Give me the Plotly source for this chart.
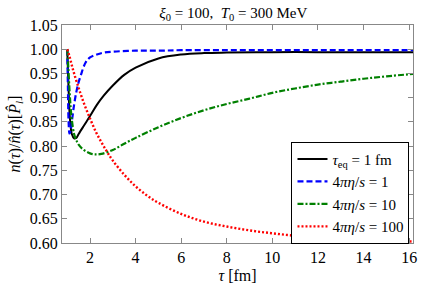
import plotly.graph_objects as go

# ---- data ----
tau_black = [1.0, 1.05, 1.1, 1.15, 1.2, 1.3, 1.4, 1.5, 1.7, 2.0, 2.3, 2.6, 3.0, 3.5, 4.0,
             5.0, 6.0, 7.0, 8.0, 10.0, 12.0, 14.0, 16.2]
n_black = [1.0, 0.93, 0.87, 0.84, 0.825, 0.816, 0.817, 0.825, 0.84, 0.862, 0.885, 0.904,
           0.925, 0.947, 0.962, 0.981, 0.989, 0.992, 0.993, 0.994, 0.994, 0.994, 0.994]

tau_blue = [1.0, 1.03, 1.06, 1.1, 1.15, 1.2, 1.3, 1.4, 1.5, 1.6, 1.8, 2.0, 2.3, 2.6, 3.0,
            4.0, 5.0, 6.0, 8.0, 10.0, 12.0, 14.0, 16.2]
n_blue = [1.0, 0.92, 0.85, 0.826, 0.832, 0.85, 0.885, 0.912, 0.932, 0.947, 0.972, 0.983,
          0.989, 0.993, 0.995, 0.997, 0.997, 0.998, 0.998, 0.998, 0.998, 0.998, 0.998]

tau_green = [1.0, 1.05, 1.1, 1.15, 1.2, 1.3, 1.4, 1.5, 1.7, 2.0, 2.2, 2.5, 3.0, 3.5, 4.0,
             5.0, 6.0, 7.0, 8.0, 9.0, 10.0, 11.0, 12.0, 13.0, 14.0, 15.0, 16.2]
n_green = [1.0, 0.96, 0.915, 0.88, 0.855, 0.825, 0.812, 0.803, 0.793, 0.785, 0.783, 0.784,
           0.792, 0.805, 0.817, 0.839, 0.858, 0.874, 0.887, 0.898, 0.91, 0.919, 0.927,
           0.933, 0.939, 0.944, 0.949]

tau_red = [1.0, 1.1, 1.2, 1.3, 1.5, 1.75, 2.0, 2.25, 2.5, 2.75, 3.0, 3.5, 4.0, 4.5, 5.0,
           6.0, 7.0, 8.0, 9.0, 10.0, 11.0, 12.0, 13.0, 14.0, 15.0, 16.2]
n_red = [1.0, 0.985, 0.967, 0.95, 0.92, 0.886, 0.857, 0.83, 0.808, 0.788, 0.770, 0.741,
         0.717, 0.698, 0.683, 0.66, 0.644, 0.634, 0.626, 0.620, 0.615, 0.612, 0.609,
         0.607, 0.605, 0.603]

labels = ["<i>τ</i><sub>eq</sub> = 1 fm", "4<i>πη</i>/<i>s</i> = 1",
          "4<i>πη</i>/<i>s</i> = 10", "4<i>πη</i>/<i>s</i> = 100"]

FONT = "'Liberation Serif', 'DejaVu Serif', serif"

fig = go.Figure()
fig.add_trace(go.Scatter(x=tau_black, y=n_black, mode="lines", name=labels[0],
                         line=dict(color="black", width=2, shape="spline")))
fig.add_trace(go.Scatter(x=tau_blue, y=n_blue, mode="lines", name=labels[1],
                         line=dict(color="#0000ff", width=2.2, dash="6px,3px", shape="spline")))
fig.add_trace(go.Scatter(x=tau_green, y=n_green, mode="lines", name=labels[2],
                         line=dict(color="#008000", width=2.2, dash="6px,2px,2px,2px", shape="spline")))
fig.add_trace(go.Scatter(x=tau_red, y=n_red, mode="lines", name=labels[3],
                         line=dict(color="#ff0000", width=2.4, dash="2px,2px", shape="spline")))

axis_common = dict(showline=True, linecolor="#888888", linewidth=1.2, mirror="ticks",
                   ticks="inside", ticklen=5, tickcolor="#888888", showgrid=False,
                   zeroline=False, tickfont=dict(family=FONT, size=16, color="black"))

fig.update_layout(
    width=425, height=289,
    margin=dict(l=62, r=8, t=25, b=46),
    paper_bgcolor="white", plot_bgcolor="white",
    font=dict(family=FONT, size=16, color="black"),
    title=dict(text="<i>ξ</i><sub>0</sub> = 100,  <i>T</i><sub>0</sub> = 300 MeV",
               x=0.549, xanchor="center", y=0.955, yanchor="middle",
               font=dict(family=FONT, size=15)),
    xaxis=dict(range=[0.77, 16.17], dtick=2, tick0=0,
               title=dict(text="<i>τ</i> [fm]", font=dict(family=FONT, size=16), standoff=4),
               **axis_common),
    yaxis=dict(range=[0.60, 1.05], dtick=0.05, tick0=0, tickformat=".2f",
               title=dict(text="<i>n</i>(<i>τ</i>)/<i>n̂</i>(<i>τ</i>)[<i>P̂</i><sub><i>l</i></sub>]",
                          font=dict(family=FONT, size=16), standoff=5),
               **axis_common),
    legend=dict(x=0.99, xanchor="right", y=0.465, yanchor="top",
                bgcolor="white", bordercolor="black", borderwidth=1,
                font=dict(family=FONT, size=15), itemwidth=30,
                tracegroupgap=0),
    showlegend=True,
)

fig.write_html("out.html", config={"displayModeBar": False},
               post_script="document.body.style.margin='0';document.body.style.overflow='hidden';")
